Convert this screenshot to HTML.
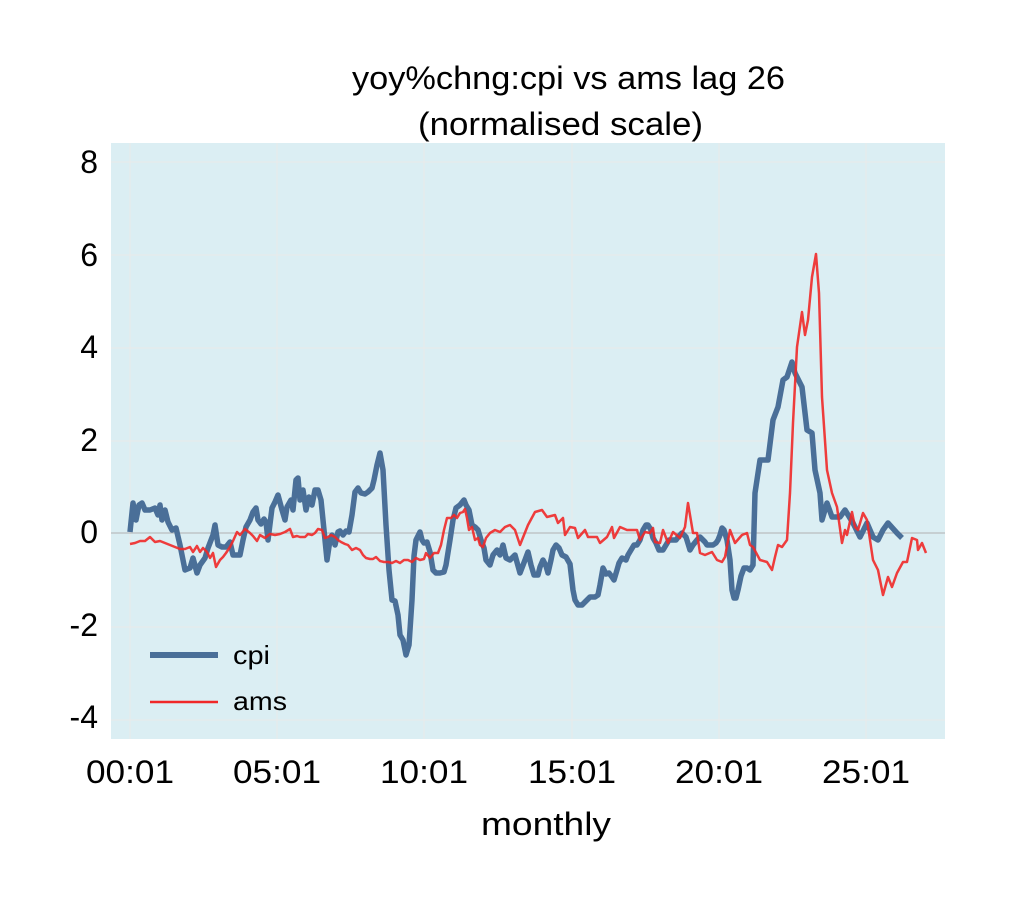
<!DOCTYPE html>
<html><head><meta charset="utf-8"><style>
body{margin:0;background:#fff;}
text{font-family:"Liberation Sans",sans-serif;fill:#000;}
</style></head><body>
<svg width="1033" height="907" xmlns="http://www.w3.org/2000/svg">
<rect x="111" y="143" width="834" height="596" fill="#dbeef3"/>
<g stroke="#eaeaea" stroke-width="1">
<line x1="111" y1="162" x2="945" y2="162"/><line x1="111" y1="255" x2="945" y2="255"/><line x1="111" y1="348" x2="945" y2="348"/><line x1="111" y1="441" x2="945" y2="441"/><line x1="111" y1="627" x2="945" y2="627"/><line x1="111" y1="720" x2="945" y2="720"/>
<line x1="130" y1="143" x2="130" y2="739"/><line x1="277" y1="143" x2="277" y2="739"/><line x1="424" y1="143" x2="424" y2="739"/><line x1="572" y1="143" x2="572" y2="739"/><line x1="719" y1="143" x2="719" y2="739"/><line x1="866" y1="143" x2="866" y2="739"/>
</g>
<line x1="111" y1="533" x2="945" y2="533" stroke="#b0b0b0" stroke-width="1"/>
<polyline fill="none" stroke="#4a6f98" stroke-width="5.5" stroke-linejoin="round" points="130,532 133,503 136,520 139,505 142,503 145,510 150,510 155,508 158,515 160,505 162,520 165,510 168,522 172,530 176,528 180,545 185,570 190,568 193,558 197,573 200,565 205,558 208,548 213,535 215,525 218,545 222,547 226,547 230,542 233,555 237,555 240,555 243,540 246,527 250,520 253,512 256,508 258,520 261,524 264,519 266,522 268,540 272,508 275,502 278,495 282,510 285,520 287,507 291,500 293,510 296,480 298,478 300,500 303,490 306,510 309,497 312,505 315,490 318,490 321,500 324,530 327,560 330,540 332,535 335,545 338,532 340,531 343,535 346,531 349,532 352,515 355,492 358,488 361,493 365,494 368,492 372,488 374,480 377,465 380,453 383,470 386,525 389,570 392,600 395,601 398,615 400,635 403,640 406,655 409,645 412,600 414,556 416,540 420,532 422,540 424,543 427,542 430,552 433,570 436,573 440,573 444,572 446,565 450,540 453,520 456,508 460,505 464,500 466,505 469,510 472,525 475,527 478,530 481,540 484,548 486,560 490,565 493,555 497,550 500,555 503,545 506,558 510,560 515,555 520,573 525,560 528,552 531,565 534,575 538,575 540,567 543,560 546,566 548,573 551,560 553,550 556,545 559,548 562,555 566,557 570,564 573,590 575,600 578,605 582,605 587,600 590,597 595,597 598,595 600,585 603,568 606,574 609,573 612,577 614,580 617,570 619,563 622,558 626,560 628,555 631,550 634,545 637,545 640,540 643,530 646,525 648,525 651,530 653,538 656,543 659,550 663,550 666,545 669,540 672,540 676,540 679,536 682,533 686,537 690,550 693,545 697,540 700,537 703,540 705,542 707,545 709,545 712,545 713,545 716,543 718,540 720,535 722,528 724,530 727,540 730,560 732,590 734,598 736,598 738,590 741,576 744,568 747,568 750,570 753,565 755,493 760,460 768,460 773,420 778,407 783,380 787,377 792,362 795,373 802,387 807,430 812,433 815,470 820,493 822,520 827,503 832,517 840,517 845,510 853,523 860,537 867,523 873,537 878,540 883,530 888,523 897,533 902,538"/>
<polyline fill="none" stroke="#f02828" stroke-opacity="0.9" stroke-width="2.5" stroke-linejoin="round" points="130,544 135,543 140,541 145,541 150,537 155,542 160,541 165,543 170,545 175,547 180,549 185,549 190,547 193,552 197,546 200,552 203,548 207,552 210,558 213,553 216,567 220,560 223,557 226,553 230,547 233,541 237,532 240,535 245,529 250,533 253,536 257,541 260,535 265,538 270,534 275,535 280,534 285,532 290,529 293,537 297,536 300,537 305,537 308,534 312,535 315,533 318,529 322,530 325,538 328,537 331,535 335,537 338,540 341,542 345,544 348,545 352,550 356,548 360,550 363,555 366,558 370,559 373,559 376,557 380,561 384,562 388,562 392,563 396,561 400,563 404,560 408,560 412,562 416,558 420,560 424,559 426,553 430,558 434,553 438,553 441,545 444,530 447,518 451,518 454,515 457,518 460,513 463,512 465,509 467,518 469,530 472,527 475,540 478,538 480,545 483,547 486,538 490,533 495,530 500,532 505,527 510,525 515,530 520,545 528,525 535,512 542,510 547,517 555,515 558,523 563,518 565,535 570,527 575,528 578,538 585,530 588,537 597,537 600,543 607,537 612,527 614,538 620,527 627,530 637,530 640,540 645,532 650,533 653,528 655,542 660,543 663,530 668,543 673,532 680,538 685,527 688,503 693,533 697,533 700,553 705,555 712,552 717,560 722,562 725,557 730,530 735,543 742,535 747,533 750,545 753,547 760,560 767,562 772,570 775,557 778,545 782,547 787,540 790,493 793,423 797,347 802,312 805,335 808,320 812,277 816,254 819,293 822,397 827,470 832,493 837,507 842,543 845,530 847,535 852,512 855,527 858,530 863,513 867,520 873,560 878,570 883,595 888,577 892,587 897,573 903,562 907,562 912,538 917,540 918,550 922,543 926,553"/>
<line x1="150" y1="655" x2="218" y2="655" stroke="#4a6f98" stroke-width="6"/>
<text x="233" y="664" font-size="26" textLength="37" lengthAdjust="spacingAndGlyphs">cpi</text>
<line x1="150" y1="702" x2="218" y2="702" stroke="#f02828" stroke-width="2.5"/>
<text x="233" y="710" font-size="26" textLength="54" lengthAdjust="spacingAndGlyphs">ams</text>
<g font-size="32" text-anchor="end">
<text x="98" y="173">8</text><text x="98" y="266">6</text><text x="98" y="358">4</text><text x="98" y="451">2</text><text x="98" y="543">0</text><text x="98" y="636">-2</text><text x="98" y="728">-4</text>
</g>
<g font-size="32">
<text x="86" y="783" textLength="88" lengthAdjust="spacingAndGlyphs">00:01</text>
<text x="233" y="783" textLength="88" lengthAdjust="spacingAndGlyphs">05:01</text>
<text x="380" y="783" textLength="88" lengthAdjust="spacingAndGlyphs">10:01</text>
<text x="528" y="783" textLength="88" lengthAdjust="spacingAndGlyphs">15:01</text>
<text x="675" y="783" textLength="88" lengthAdjust="spacingAndGlyphs">20:01</text>
<text x="822" y="783" textLength="88" lengthAdjust="spacingAndGlyphs">25:01</text>
<text x="481" y="835" textLength="130" lengthAdjust="spacingAndGlyphs">monthly</text>
<text x="352" y="89" textLength="433" lengthAdjust="spacingAndGlyphs">yoy%chng:cpi vs ams lag 26</text>
<text x="418" y="135" textLength="285" lengthAdjust="spacingAndGlyphs">(normalised scale)</text>
</g>
</svg>
</body></html>
